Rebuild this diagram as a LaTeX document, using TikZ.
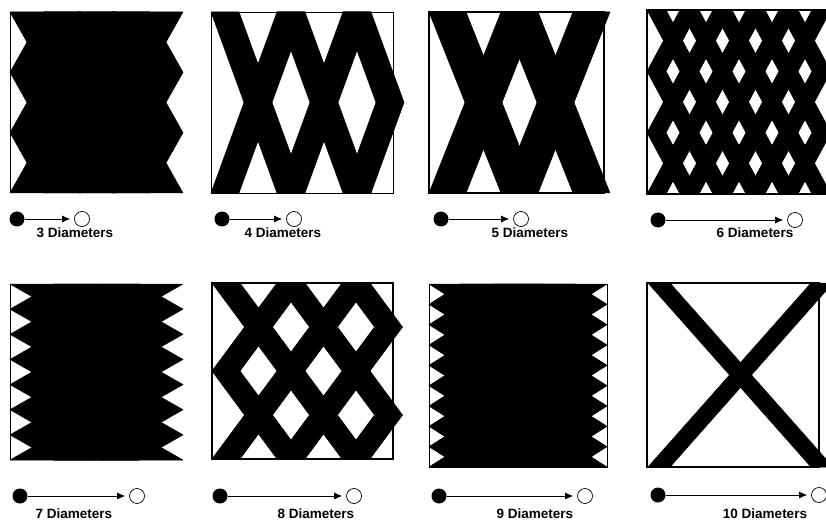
\documentclass[tikz,border=0pt]{standalone}
\usepackage{fontspec}
\setmainfont{Liberation Sans}
\usetikzlibrary{arrows.meta}

\newcommand{\wrapband}[7]{%
  \pgfmathsetmacro{\hc}{(#3-#2)/#4}%
  \pgfmathtruncatemacro{\nfull}{floor(#5)}%
  \foreach \c in {1,...,#4}{%
    \pgfmathsetmacro{\ya}{#2+(\c-1)*\hc}%
    \pgfmathsetmacro{\yb}{\ya+\hc}%
    \pgfmathsetmacro{\ym}{\ya+\hc/2}%
    \foreach \k in {1,...,\nfull}{%
      \pgfmathsetmacro{\xa}{#1+(\k-1)*#6}%
      \pgfmathsetmacro{\xb}{\xa+#6}%
      \filldraw[band] (\xa,\ya) -- ++(#7,0) -- (\xb+#7,\yb) -- (\xb,\yb) -- cycle;
      \filldraw[band] (\xa,\yb) -- ++(#7,0) -- (\xb+#7,\ya) -- (\xb,\ya) -- cycle;
    }%
    \ifdim #5pt>\nfull pt
      \pgfmathsetmacro{\xa}{#1+\nfull*#6}%
      \pgfmathsetmacro{\xm}{\xa+#6/2}%
      \filldraw[band] (\xa,\ya) -- ++(#7,0) -- (\xm+#7,\ym) -- (\xm,\ym) -- cycle;
      \filldraw[band] (\xa,\yb) -- ++(#7,0) -- (\xm+#7,\ym) -- (\xm,\ym) -- cycle;
    \fi
  }}

\begin{document}
\begin{tikzpicture}[x=1pt, y=-1pt, >={Latex[length=8pt,width=7pt]},
  band/.style={fill=black, draw=black, line width=0.5pt, line join=round},
  frame/.style={draw=black, line width=1pt},
  ball/.style={circle, fill=black, minimum size=15pt, inner sep=0pt},
  ring/.style={circle, draw=black, line width=0.7pt, minimum size=15pt, inner sep=0pt},
  caption/.style={font=\bfseries\fontsize{13.5}{15}\selectfont},
  link/.style={->, line width=0.8pt, shorten >=4pt}]
	\clip (0,0) rectangle (826,521);
	\fill[white] (0,0) rectangle (826,521);
	\draw[frame, line width=0.8pt] (10,12) -- (10,193);
	\wrapband{10}{12}{193}{3}{4}{34}{37}
	\draw[frame, line width=0.8pt] (211,12) rectangle (393,193);
	\wrapband{211}{12}{193}{1}{2.5}{66}{28}
	\draw[frame, line width=1.2pt] (429,12) rectangle (604,193);
	\wrapband{429}{12}{193}{1}{2}{72}{37}
	\draw[frame, line width=2pt] (647,10) rectangle (840,194);
	\wrapband{647}{10}{194}{3}{5}{33}{19}
	\draw[frame, line width=0.8pt] (10,284) -- (10,460);
	\wrapband{10}{284}{460}{7}{2}{44}{85}
	\draw[frame, line width=2pt] (212,283) rectangle (393,459);
	\wrapband{212}{283}{459}{2}{2.5}{65}{28}
	\draw[frame] (429,284) rectangle (607,467);
	\wrapband{429}{284}{467}{9}{2}{32}{114}
	\draw[frame, line width=2pt] (647,283) rectangle (819,467);
	\wrapband{648}{283}{467}{1}{1}{163}{22}
	\node[ball] (s3) at (17,219) {};
	\node[ring] (e3) at (82,219) {};
	\draw[link] (s3) -- (e3);
	\node[caption] (c3) at (75,233) {3 Diameters};
	\node[ball] (s4) at (222,219) {};
	\node[ring] (e4) at (294,219) {};
	\draw[link] (s4) -- (e4);
	\node[caption] (c4) at (283,233) {4 Diameters};
	\node[ball] (s5) at (441,219) {};
	\node[ring] (e5) at (521,219) {};
	\draw[link] (s5) -- (e5);
	\node[caption] (c5) at (530,233) {5 Diameters};
	\node[ball] (s6) at (658,220) {};
	\node[ring] (e6) at (795,220) {};
	\draw[link] (s6) -- (e6);
	\node[caption] (c6) at (755,233) {6 Diameters};
	\node[ball] (s7) at (20,496) {};
	\node[ring] (e7) at (137,496) {};
	\draw[link] (s7) -- (e7);
	\node[caption] (c7) at (74,514) {7 Diameters};
	\node[ball] (s8) at (220,496) {};
	\node[ring] (e8) at (354,496) {};
	\draw[link] (s8) -- (e8);
	\node[caption] (c8) at (316,514) {8 Diameters};
	\node[ball] (s9) at (439,496) {};
	\node[ring] (e9) at (585,496) {};
	\draw[link] (s9) -- (e9);
	\node[caption] (c9) at (535,514) {9 Diameters};
	\node[ball] (s10) at (658,495) {};
	\node[ring] (e10) at (819,495) {};
	\draw[link] (s10) -- (e10);
	\node[caption] (c10) at (765,514) {10 Diameters};
\end{tikzpicture}
\end{document}
